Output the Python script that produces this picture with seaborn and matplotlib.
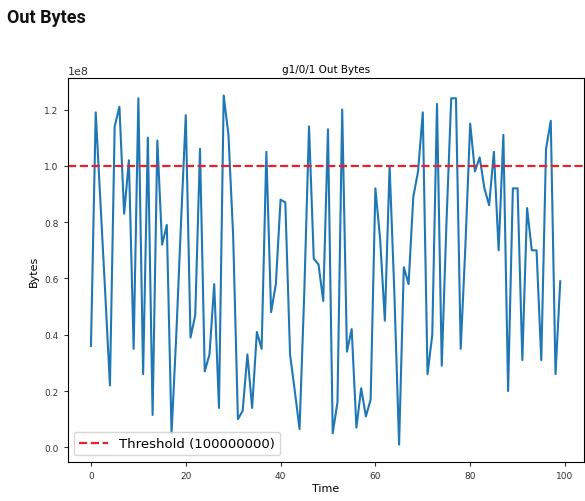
import numpy as np
import pandas as pd
import matplotlib
matplotlib.use("Agg")
import matplotlib.pyplot as plt
import seaborn as sns

# Data (values in units of 1e8 bytes)
time = list(range(100))
out_bytes_1e8 = [
    0.36, 1.19, 0.87, 0.55, 0.22, 1.14, 1.21, 0.83, 1.02, 0.35,
    1.24, 0.26, 1.10, 0.115, 1.09, 0.72, 0.79, 0.05, 0.40, 0.80,
    1.18, 0.39, 0.47, 1.06, 0.27, 0.33, 0.58, 0.14, 1.25, 1.11,
    0.75, 0.10, 0.13, 0.33, 0.14, 0.41, 0.35, 1.05, 0.48, 0.58,
    0.88, 0.87, 0.33, 0.20, 0.065, 0.55, 1.14, 0.67, 0.65, 0.52,
    1.13, 0.05, 0.16, 1.20, 0.34, 0.42, 0.07, 0.21, 0.11, 0.17,
    0.92, 0.74, 0.45, 1.00, 0.55, 0.01, 0.64, 0.58, 0.89, 0.98,
    1.19, 0.26, 0.40, 1.22, 0.29, 0.80, 1.24, 1.24, 0.35, 0.72,
    1.15, 0.98, 1.03, 0.92, 0.86, 1.05, 0.70, 1.11, 0.20, 0.92,
    0.92, 0.31, 0.85, 0.70, 0.70, 0.31, 1.06, 1.16, 0.26, 0.59,
]
threshold = 100000000
page_title = "Out Bytes"
chart_title = "g1/0/1 Out Bytes"
x_label = "Time"
y_label = "Bytes"

df = pd.DataFrame({"Time": time, "Bytes": [v * 1e8 for v in out_bytes_1e8]})

fig = plt.figure(figsize=(5.85, 5.02), dpi=100)
ax = fig.add_axes([0.1154, 0.0777, 0.8824, 0.7649])

sns.lineplot(data=df, x="Time", y="Bytes", ax=ax, color="#1f77b4", linewidth=1.5)
ax.axhline(threshold, color="#e8202a", linestyle="--", linewidth=1.6,
           label=f"Threshold ({threshold})")

ax.set_title(chart_title, fontsize=7.5, pad=4)
ax.set_xlabel(x_label, fontsize=8, labelpad=2)
ax.set_ylabel(y_label, fontsize=8, labelpad=4)
ax.tick_params(labelsize=6.5, length=3, colors="#333333")
ax.yaxis.get_offset_text().set_fontsize(8)
ax.set_xticks([0, 20, 40, 60, 80, 100])
leg = ax.legend(loc="lower left", fontsize=9.5, handlelength=2.2)

fig.text(0.012, 0.965, page_title, fontsize=13, fontweight="bold",
         family=["Roboto", "DejaVu Sans"], va="center", ha="left", color="#111111")

fig.savefig("out.png", dpi=100)
